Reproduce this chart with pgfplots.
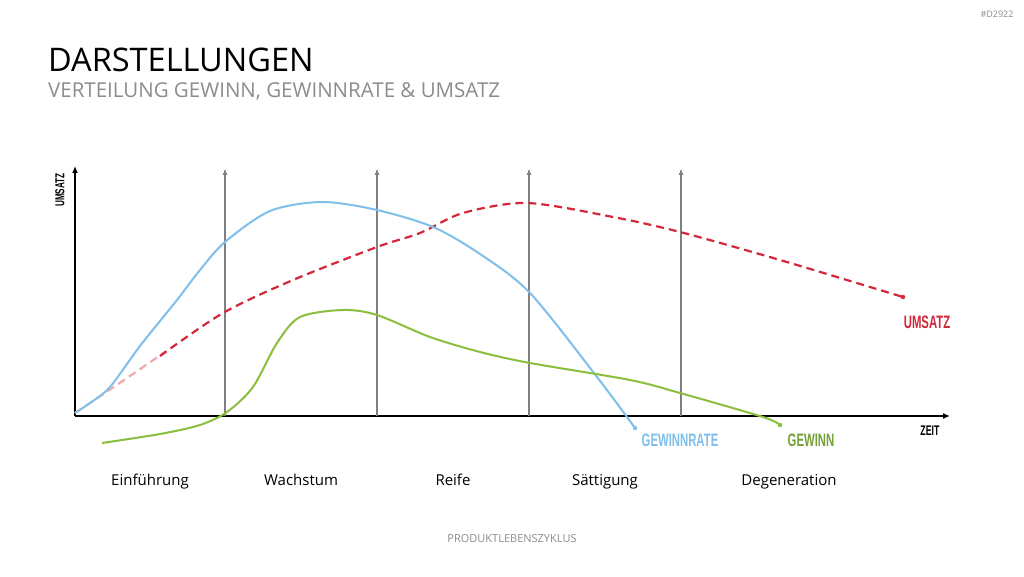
\documentclass[border=0pt]{standalone}
\usepackage{pgfplots}
\pgfplotsset{compat=1.18}
\usepackage{fontspec}
\setmainfont{Open Sans}
\newfontfamily\condfont{Liberation Sans}[FakeStretch=0.63]
\usetikzlibrary{arrows.meta}
\definecolor{cblue}{RGB}{127,191,234}
\definecolor{cred}{RGB}{210,40,58}
\definecolor{cpink}{RGB}{240,170,175}
\definecolor{cgreen}{RGB}{140,190,62}
\definecolor{cgreenlab}{RGB}{118,160,58}
\definecolor{cgray}{RGB}{128,128,128}
\definecolor{ctxt}{RGB}{140,140,140}
\begin{document}
\begin{tikzpicture}[x=1pt,y=1pt]
\path[use as bounding box, fill=white] (0,0) rectangle (1024,576);
\node[anchor=base west, inner sep=0pt] at (48,504) {\fontsize{32.5}{38}\selectfont DARSTELLUNGEN};
\node[anchor=base west, inner sep=0pt, text=ctxt] at (48,478) {\fontsize{20.5}{24}\selectfont VERTEILUNG GEWINN, GEWINNRATE \& UMSATZ};
\node[text=ctxt, inner sep=0pt] at (997,562) {\fontsize{9}{10}\selectfont \#D2922};
\node[text=ctxt, inner sep=0pt] at (512,37) {\fontsize{11}{13}\selectfont PRODUKTLEBENSZYKLUS};
\begin{axis}[at={(75pt,160pt)}, anchor=south west, scale only axis,
  x=1pt, y=1pt, xmin=75, xmax=950, ymin=0, ymax=250, enlargelimits=false,
  axis lines=left, axis line style={line width=1.8pt, black, -{Latex[length=7pt,width=6pt]}},
  xtick=\empty, ytick=\empty, clip=false]
% gray phase arrows
\addplot[cgray, line width=1.5pt, -{Latex[length=7pt,width=5pt]}] coordinates {(225,0) (225,248)};
\addplot[cgray, line width=1.5pt, -{Latex[length=7pt,width=5pt]}] coordinates {(377,0) (377,248)};
\addplot[cgray, line width=1.5pt, -{Latex[length=7pt,width=5pt]}] coordinates {(529,0) (529,248)};
\addplot[cgray, line width=1.5pt, -{Latex[length=7pt,width=5pt]}] coordinates {(681,0) (681,248)};
% Umsatz (red dashed)
\addplot[cpink, line width=2.2pt, dash pattern=on 8pt off 5pt, smooth] coordinates {(75,3) (127,38) (165,64)};
\addplot[cred, line width=2.2pt, dash pattern=on 8pt off 5pt, smooth] coordinates {
(160,60) (223,103) (293,136) (377,169) (420,183) (463,203) (527,213) (613,199) (680,184) (780,156) (903,119)};
% Gewinnrate (blue)
\addplot[cblue, line width=2pt, smooth] coordinates {
(75,3) (90,13) (110,29) (140,70) (177,116) (200,146) (225,174) (270,205) (322,214) (377,206) (433,189) (480,162) (530,123) (597,39) (635,-12)};
% Gewinn (green)
\addplot[cgreen, line width=2pt, smooth] coordinates {
(102,-27) (160,-18) (200,-9) (227,4) (253,29) (277,73) (300,99) (343,106) (377,101) (430,79) (480,64) (530,53) (630,36) (680,23) (763,-1) (780,-9)};
% end dots
\addplot[only marks, mark=*, mark size=2pt, cblue] coordinates {(635,-12)};
\addplot[only marks, mark=*, mark size=2pt, cred] coordinates {(903,119)};
\addplot[only marks, mark=*, mark size=2pt, cgreen] coordinates {(780,-9)};
% labels
\node[text=cred] at (axis cs:927,94) {\condfont\bfseries\fontsize{18}{20}\selectfont UMSATZ};
\node[text=cblue] at (axis cs:680,-24) {\condfont\bfseries\fontsize{18}{20}\selectfont GEWINNRATE};
\node[text=cgreenlab] at (axis cs:811,-24) {\condfont\bfseries\fontsize{18}{20}\selectfont GEWINN};
\node[text=black] at (axis cs:930,-15) {\condfont\bfseries\fontsize{14}{16}\selectfont ZEIT};
\node[text=black, rotate=90] at (axis cs:60,226) {\condfont\bfseries\fontsize{13}{15}\selectfont UMSATZ};
\node[anchor=base] at (axis cs:150,-69) {\fontsize{15}{18}\selectfont Einführung};
\node[anchor=base] at (axis cs:301,-69) {\fontsize{15}{18}\selectfont Wachstum};
\node[anchor=base] at (axis cs:453,-69) {\fontsize{15}{18}\selectfont Reife};
\node[anchor=base] at (axis cs:605,-69) {\fontsize{15}{18}\selectfont Sättigung};
\node[anchor=base] at (axis cs:789,-69) {\fontsize{15}{18}\selectfont Degeneration};
\end{axis}
\end{tikzpicture}
\end{document}
